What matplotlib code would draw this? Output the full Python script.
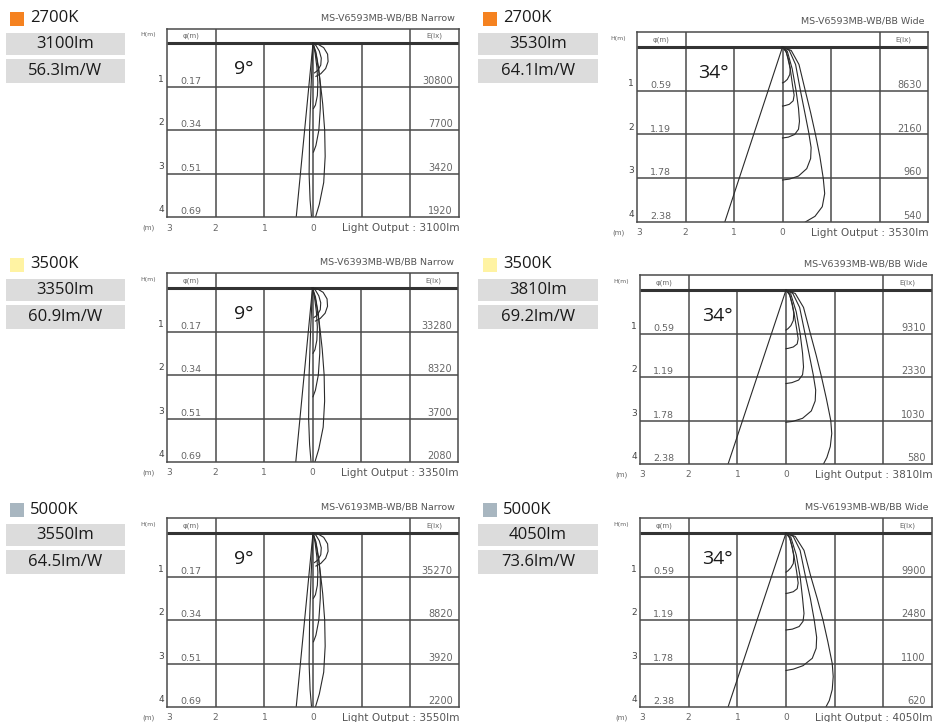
import matplotlib
matplotlib.use("Agg")
import matplotlib.pyplot as plt
from matplotlib.patches import Rectangle

# ---- data ----
temps = ["2700K", "3500K", "5000K"]
temp_colors = ["#F58220", "#FFF3A3", "#A8B6C0"]
models = ["MS-V6593MB-WB/BB", "MS-V6393MB-WB/BB", "MS-V6193MB-WB/BB"]

narrow_lm = ["3100lm", "3350lm", "3550lm"]
narrow_eff = ["56.3lm/W", "60.9lm/W", "64.5lm/W"]
wide_lm = ["3530lm", "3810lm", "4050lm"]
wide_eff = ["64.1lm/W", "69.2lm/W", "73.6lm/W"]

heights = [1, 2, 3, 4]
narrow_phi = ["0.17", "0.34", "0.51", "0.69"]
wide_phi = ["0.59", "1.19", "1.78", "2.38"]
narrow_lux = [["30800", "7700", "3420", "1920"],
              ["33280", "8320", "3700", "2080"],
              ["35270", "8820", "3920", "2200"]]
wide_lux = [["8630", "2160", "960", "540"],
            ["9310", "2330", "1030", "580"],
            ["9900", "2480", "1100", "620"]]
narrow_angle = "9°"
wide_angle = "34°"

# isolux loops (x in m, depth in m), narrow shape is the same on all rows
narrow_loops = [
    ([0, 0.10, 0.22, 0.30, 0.31, 0.26, 0.16, 0.06], [0, 0.02, 0.10, 0.25, 0.42, 0.58, 0.70, 0.76]),
    ([0, 0.06, 0.13, 0.17, 0.16, 0.10, 0.03], [0, 0.05, 0.18, 0.34, 0.50, 0.62, 0.68]),
    ([0, 0.04, 0.08, 0.10, 0.09, 0.05, 0.01], [0, 0.20, 0.55, 0.90, 1.20, 1.42, 1.50]),
    ([0, 0.06, 0.12, 0.15, 0.15, 0.12, 0.06, 0.01], [0, 0.20, 0.60, 1.00, 1.50, 2.00, 2.35, 2.50]),
    ([0, 0.07, 0.14, 0.20, 0.24, 0.25, 0.22, 0.13, 0.05], [0, 0.30, 0.80, 1.40, 2.00, 2.60, 3.20, 3.70, 4.00]),
    ([0, -0.04, -0.07, -0.08, -0.06, -0.03], [0, 1.00, 2.00, 3.00, 3.60, 4.00]),
]

wide_loops = [
    [  # 2700K
        ([0, 0.07, 0.13, 0.16, 0.15, 0.10, 0.04, 0], [0, 0.10, 0.30, 0.50, 0.63, 0.74, 0.80, 0.82]),
        ([0, 0.08, 0.16, 0.21, 0.24, 0.22, 0.14, 0.05, 0], [0, 0.12, 0.50, 0.90, 1.10, 1.23, 1.31, 1.34, 1.35]),
        ([0, 0.10, 0.20, 0.28, 0.33, 0.35, 0.33, 0.25, 0.12, 0], [0, 0.10, 0.50, 1.00, 1.40, 1.70, 1.88, 2.00, 2.06, 2.08]),
        ([0, 0.14, 0.27, 0.37, 0.46, 0.54, 0.59, 0.58, 0.50, 0.33, 0.14, 0], [0, 0.08, 0.40, 1.00, 1.50, 1.95, 2.30, 2.55, 2.78, 2.95, 3.02, 3.04]),
        ([0, 0.18, 0.34, 0.47, 0.58, 0.68, 0.77, 0.84, 0.87, 0.82, 0.67, 0.47], [0, 0.08, 0.40, 1.00, 1.50, 2.00, 2.50, 3.00, 3.35, 3.65, 3.87, 4.00]),
    ],
    [  # 3500K
        ([0, 0.07, 0.13, 0.16, 0.15, 0.10, 0.04, 0], [0, 0.10, 0.32, 0.54, 0.70, 0.82, 0.89, 0.92]),
        ([0, 0.08, 0.16, 0.22, 0.25, 0.23, 0.15, 0.05, 0], [0, 0.12, 0.50, 0.90, 1.12, 1.24, 1.31, 1.34, 1.35]),
        ([0, 0.10, 0.21, 0.29, 0.34, 0.36, 0.34, 0.26, 0.12, 0], [0, 0.10, 0.50, 1.00, 1.45, 1.77, 1.95, 2.07, 2.13, 2.15]),
        ([0, 0.14, 0.28, 0.39, 0.48, 0.56, 0.61, 0.60, 0.52, 0.34, 0.14, 0], [0, 0.08, 0.40, 1.00, 1.50, 1.95, 2.30, 2.55, 2.78, 2.95, 3.02, 3.04]),
        ([0, 0.19, 0.36, 0.50, 0.62, 0.73, 0.83, 0.92, 0.94, 0.91, 0.84, 0.77], [0, 0.08, 0.40, 1.00, 1.50, 2.00, 2.50, 3.00, 3.30, 3.60, 3.85, 4.00]),
    ],
    [  # 5000K
        ([0, 0.07, 0.13, 0.16, 0.15, 0.10, 0.04, 0], [0, 0.10, 0.32, 0.54, 0.70, 0.80, 0.87, 0.90]),
        ([0, 0.08, 0.16, 0.22, 0.25, 0.23, 0.15, 0.05, 0], [0, 0.12, 0.50, 0.90, 1.15, 1.28, 1.35, 1.38, 1.39]),
        ([0, 0.10, 0.21, 0.29, 0.34, 0.37, 0.35, 0.27, 0.13, 0], [0, 0.10, 0.50, 1.00, 1.50, 1.85, 2.03, 2.15, 2.21, 2.23]),
        ([0, 0.15, 0.29, 0.40, 0.50, 0.58, 0.63, 0.62, 0.54, 0.35, 0.15, 0], [0, 0.08, 0.40, 1.00, 1.50, 2.00, 2.40, 2.65, 2.88, 3.05, 3.13, 3.16]),
        ([0, 0.19, 0.37, 0.51, 0.64, 0.76, 0.86, 0.95, 0.97, 0.95, 0.89, 0.82], [0, 0.08, 0.40, 1.00, 1.50, 2.00, 2.50, 3.00, 3.30, 3.60, 3.85, 4.00]),
    ],
]

# ---- layout (pixels) ----
W_PX, H_PX = 937, 722
HDR = 0.34                       # header band height in m
row_off = [0, 246, 491]
# panel box: left, right, y of H=0, y of H=4
panel_px = [
    [(167, 459, 43.3, 217.3), (637, 928, 47, 222)],
    [(167, 458, 288, 462), (640, 932, 290, 464)],
    [(167, 459, 533, 707), (640, 932, 533, 707)],
]
label_x = [(6, 125, 10), (478, 598, 483)]

GRID = "#4a4a4a"
TXT = "#666666"
LBL = "Open Sans"

fig = plt.figure(figsize=(W_PX / 100, H_PX / 100), dpi=100)
fig.patch.set_facecolor("white")
bg = fig.add_axes([0, 0, 1, 1])
bg.set_xlim(0, W_PX)
bg.set_ylim(H_PX, 0)
bg.axis("off")


def side_labels(col, r, temp, color, lm, eff):
    bx0, bx1, sq = label_x[col]
    oy = row_off[r]
    bg.add_patch(Rectangle((sq, 11.5 + oy), 14, 14, color=color, lw=0))
    bg.text(sq + 20, 18.5 + oy, temp, fontsize=12, family=LBL, color="#1a1a1a", va="center")
    for (y0, y1, s) in [(33, 54.5, lm), (59, 82.5, eff)]:
        bg.add_patch(Rectangle((bx0, y0 + oy), bx1 - bx0, y1 - y0, color="#dcdcdc", lw=0))
        bg.text((bx0 + bx1) / 2, (y0 + y1) / 2 + oy, s, fontsize=12, family=LBL,
                color="#1a1a1a", ha="center", va="center")


def panel(box, title, phis, luxes, loops, angle, lm):
    l, r, y0, y4 = box
    ppm = (y4 - y0) / 4.0
    top = y0 - HDR * ppm
    ax = fig.add_axes([l / W_PX, 1 - y4 / H_PX, (r - l) / W_PX, (y4 - top) / H_PX])
    ax.set_xlim(-3, 3)
    ax.set_ylim(4, -HDR)
    ax.set_xticks([])
    ax.set_yticks([])
    for s in ax.spines.values():
        s.set_color(GRID)
        s.set_linewidth(1.1)
    ax.vlines([-2, 2], -HDR, 4, color=GRID, lw=1.1)
    ax.vlines([-1, 0, 1], 0, 4, color=GRID, lw=1.1)
    ax.hlines(heights[:-1], -3, 3, color=GRID, lw=1.1)
    ax.hlines([0], -3, 3, color="#333333", lw=2.2)

    # beam edge line from the spot diameter at 4 m
    rad = float(phis[-1]) / 2
    ax.plot([0, -rad], [0, heights[-1]], color="#2a2a2a", lw=0.8)
    for xs, hs in loops:
        ax.plot(xs, hs, color="#2a2a2a", lw=0.8, solid_joinstyle="round")

    kw = dict(clip_on=False, family="DejaVu Sans")
    ax.text(-2.5, -HDR / 2, "φ(m)", fontsize=5, color=TXT, ha="center", va="center", **kw)
    ax.text(2.5, -HDR / 2, "E(lx)", fontsize=5, color=TXT, ha="center", va="center", **kw)
    ax.text(-3.38, -HDR / 2 - 0.03, "H(m)", fontsize=4.5, color=TXT, ha="center", va="center", **kw)
    for h, p, e in zip(heights, phis, luxes):
        ax.text(-3.12, h - 0.17, str(h), fontsize=6.5, color="#444444", ha="center", va="center", **kw)
        ax.text(-2.73, h - 0.02, p, fontsize=6.8, color=TXT, ha="left", va="bottom", **kw)
        ax.text(2.87, h - 0.02, e, fontsize=7, color=TXT, ha="right", va="bottom", **kw)
    yb = 4.25
    ax.text(-3.38, yb, "(m)", fontsize=5, color=TXT, ha="center", va="center", **kw)
    for v in [3, 2, 1, 0]:
        ax.text(-v + (0.05 if v == 3 else 0), yb, str(v), fontsize=6.5, color=TXT,
                ha="center", va="center", **kw)
    ax.text(3.02, yb, "Light Output : " + lm, fontsize=7.6, color="#555555",
            ha="right", va="center", **kw)
    ax.text(2.92, -HDR - 0.25, title, fontsize=6.8, color="#555555", ha="right", va="center", **kw)
    ax.text(-1.42, 0.6, angle, fontsize=14, family=LBL, color="#1a1a1a",
            ha="center", va="center", clip_on=False)


for r in range(3):
    side_labels(0, r, temps[r], temp_colors[r], narrow_lm[r], narrow_eff[r])
    side_labels(1, r, temps[r], temp_colors[r], wide_lm[r], wide_eff[r])
    panel(panel_px[r][0], models[r] + " Narrow", narrow_phi, narrow_lux[r],
          narrow_loops, narrow_angle, narrow_lm[r])
    panel(panel_px[r][1], models[r] + " Wide", wide_phi, wide_lux[r],
          wide_loops[r], wide_angle, wide_lm[r])

fig.savefig("out.png", dpi=100, facecolor="white")
